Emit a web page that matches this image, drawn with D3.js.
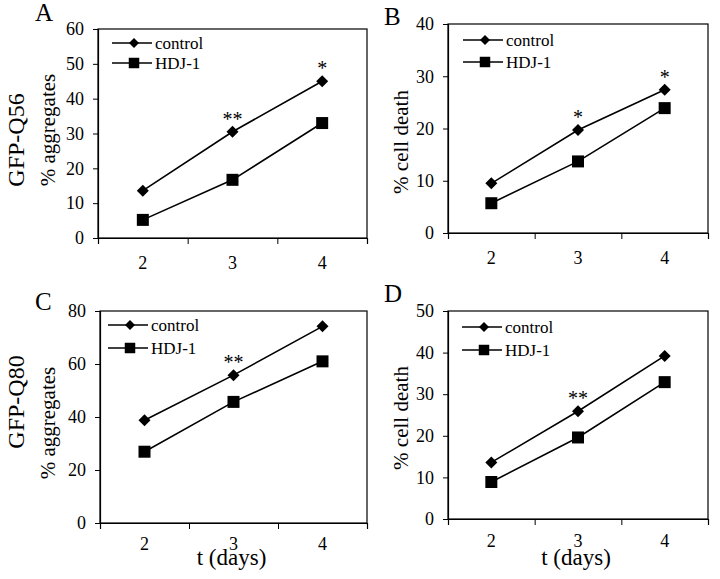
<!DOCTYPE html>
<html>
<head>
<meta charset="utf-8">
<script src="https://cdn.jsdelivr.net/npm/d3@7"></script>
<style>
  html, body { margin: 0; padding: 0; background: #fff; }
  svg { display: block; }
  text { font-family: "Liberation Serif", "Times New Roman", serif; fill: #000; }
</style>
</head>
<body>
<svg id="chart" width="720" height="579"></svg>
<script>
// ---- data ----
const days = ["2", "3", "4"];
const seriesNames = ["control", "HDJ-1"];

const aControl = [13.6, 30.5, 45.0];
const aHdj     = [5.2, 16.7, 33.0];
const aStars   = ["", "**", "*"];
const aTicks   = [0, 10, 20, 30, 40, 50, 60];

const bControl = [9.5, 19.7, 27.4];
const bHdj     = [5.7, 13.7, 23.9];
const bStars   = ["", "*", "*"];
const bTicks   = [0, 10, 20, 30, 40];

const cControl = [38.8, 55.8, 74.2];
const cHdj     = [26.9, 45.7, 61.0];
const cStars   = ["", "**", ""];
const cTicks   = [0, 20, 40, 60, 80];

const dControl = [13.6, 25.9, 39.2];
const dHdj     = [8.9, 19.6, 32.9];
const dStars   = ["", "**", ""];
const dTicks   = [0, 10, 20, 30, 40, 50];

const panelLetters = ["A", "B", "C", "D"];
const yTitles = ["% aggregates", "% cell death", "% aggregates", "% cell death"];
const rowTitles = ["GFP-Q56", "GFP-Q80"];
const xTitle = "t (days)";

// ---- layout ----
const panels = [
  { letter: panelLetters[0], control: aControl, hdj: aHdj, stars: aStars, ticks: aTicks, ytitle: yTitles[0],
    box: { l: 98, r: 367, t: 29, b: 238 }, letterPos: [35, 21], ytPos: [55, 130], leg: [14, 14, 34], xlabPad: 18, xtitle: false },
  { letter: panelLetters[1], control: bControl, hdj: bHdj, stars: bStars, ticks: bTicks, ytitle: yTitles[1],
    box: { l: 448, r: 708, t: 24, b: 233 }, letterPos: [384, 25], ytPos: [408, 142], leg: [15, 16, 38], xlabPad: 18, xtitle: false },
  { letter: panelLetters[2], control: cControl, hdj: cHdj, stars: cStars, ticks: cTicks, ytitle: yTitles[2],
    box: { l: 100, r: 367, t: 311, b: 523 }, letterPos: [35, 310], ytPos: [55, 423], leg: [8, 14, 37], xlabPad: 14, xtitle: true },
  { letter: panelLetters[3], control: dControl, hdj: dHdj, stars: dStars, ticks: dTicks, ytitle: yTitles[3],
    box: { l: 448, r: 708, t: 311, b: 519 }, letterPos: [384, 302], ytPos: [408, 418], leg: [14, 16, 39], xlabPad: 15, xtitle: true }
];

const svg = d3.select("#chart");

const diamond = d3.symbol().type(d3.symbolSquare);
const square = d3.symbol().type(d3.symbolSquare);

panels.forEach(p => {
  const g = svg.append("g");
  const x = d3.scaleBand().domain(days).range([p.box.l, p.box.r]);
  const xEdge = d3.scaleLinear().domain([0, days.length]).range([p.box.l, p.box.r]);
  const y = d3.scaleLinear().domain([0, d3.max(p.ticks)]).range([p.box.b, p.box.t]);

  // frame
  g.append("rect")
    .attr("x", p.box.l).attr("y", p.box.t)
    .attr("width", p.box.r - p.box.l).attr("height", p.box.b - p.box.t)
    .attr("fill", "none").attr("stroke", "#000").attr("stroke-width", 1.2);

  // y axis
  const ya = g.append("g").attr("transform", `translate(${p.box.l},0)`)
    .call(d3.axisLeft(y).tickValues(p.ticks).tickSize(5).tickPadding(9).tickFormat(d3.format("d")));
  ya.attr("font-family", null);
  ya.select(".domain").attr("stroke-width", 1.2);
  ya.selectAll("text").style("font-size", "18px");

  // x axis edge ticks
  const xe = g.append("g").attr("transform", `translate(0,${p.box.b})`)
    .call(d3.axisBottom(xEdge).tickValues(d3.range(days.length + 1)).tickSize(6).tickFormat(""));
  xe.select(".domain").attr("stroke-width", 1.2);

  // x labels
  const xl = g.append("g").attr("transform", `translate(0,${p.box.b})`)
    .call(d3.axisBottom(x).tickSize(0).tickPadding(p.xlabPad));
  xl.attr("font-family", null);
  xl.select(".domain").remove();
  xl.selectAll("text").style("font-size", "18px");

  // lines
  const line = d3.line().x((d, i) => x(days[i]) + x.bandwidth() / 2).y(d => y(d));
  [p.control, p.hdj].forEach(vals => {
    g.append("path").datum(vals).attr("d", line)
      .attr("fill", "none").attr("stroke", "#000").attr("stroke-width", 1.6);
  });

  // markers
  g.selectAll(".mc").data(p.control).join("path")
    .attr("d", diamond.size(72)())
    .attr("transform", (d, i) => `translate(${x(days[i]) + x.bandwidth() / 2},${y(d)}) rotate(45)`)
    .attr("fill", "#000");
  g.selectAll(".mh").data(p.hdj).join("path")
    .attr("d", square.size(144)())
    .attr("transform", (d, i) => `translate(${x(days[i]) + x.bandwidth() / 2},${y(d)})`)
    .attr("fill", "#000");

  // significance stars
  g.selectAll(".star").data(p.stars).join("text")
    .attr("x", (d, i) => x(days[i]) + x.bandwidth() / 2)
    .attr("y", (d, i) => y(p.control[i]) - 6)
    .attr("text-anchor", "middle")
    .style("font-size", "20px")
    .text(d => d);

  // legend
  const lx = p.box.l + p.leg[0];
  const rows = [p.box.t + p.leg[1], p.box.t + p.leg[2]];
  seriesNames.forEach((name, k) => {
    const ry = rows[k];
    g.append("line").attr("x1", lx).attr("x2", lx + 40).attr("y1", ry).attr("y2", ry)
      .attr("stroke", "#000").attr("stroke-width", 1.6);
    g.append("path")
      .attr("d", k === 0 ? diamond.size(50)() : square.size(110)())
      .attr("transform", `translate(${lx + 22},${ry})` + (k === 0 ? " rotate(45)" : ""))
      .attr("fill", "#000");
    g.append("text").attr("x", lx + 43).attr("y", ry).attr("dy", "0.33em")
      .style("font-size", "17px").text(name);
  });

  // panel letter
  g.append("text").attr("x", p.letterPos[0]).attr("y", p.letterPos[1])
    .style("font-size", "25px").text(p.letter);

  // y title
  g.append("text").attr("transform", `translate(${p.ytPos[0]},${p.ytPos[1]}) rotate(-90)`)
    .attr("text-anchor", "middle").style("font-size", "21px").text(p.ytitle);

  // x title
  if (p.xtitle) {
    g.append("text").attr("x", (p.box.l + p.box.r) / 2 - 2).attr("y", 565)
      .attr("text-anchor", "middle").style("font-size", "23px").text(xTitle);
  }
});

// row titles
svg.append("text").attr("transform", "translate(24,140) rotate(-90)")
  .attr("text-anchor", "middle").style("font-size", "24px").text(rowTitles[0]);
svg.append("text").attr("transform", "translate(24,402) rotate(-90)")
  .attr("text-anchor", "middle").style("font-size", "24px").text(rowTitles[1]);
</script>
</body>
</html>
